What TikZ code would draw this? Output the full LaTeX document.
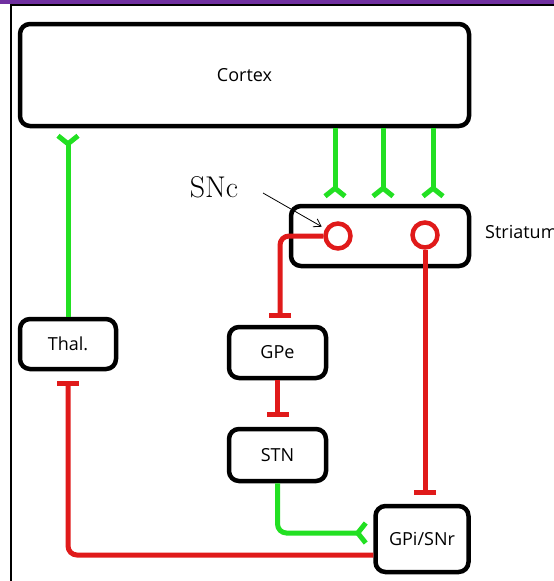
\documentclass[tikz,border=0pt]{standalone}
\usepackage{fontspec}
\newfontfamily\labelfont{Open Sans}
\usetikzlibrary{arrows.meta}
\definecolor{grn}{HTML}{22E022}
\definecolor{rd}{HTML}{E01A1A}
\definecolor{purp}{HTML}{7030A0}
\begin{document}
\begin{tikzpicture}[x=1pt,y=-1pt,
  box/.style={draw, line width=4.5pt, rounded corners=10pt, inner sep=0pt,
    font=\labelfont\fontsize{18}{20}\selectfont},
  exc/.style={grn, line width=5pt, rounded corners=9pt,
    -{Straight Barb[reversed,length=8pt,width=20pt]}, shorten >=5pt},
  inh/.style={rd, line width=5pt, rounded corners=9pt, -{Bar[width=22pt]}},
  circ/.style={circle, draw=rd, line width=4.5pt, minimum size=25pt, inner sep=0pt},
  plain/.style={font=\labelfont\fontsize{18}{20}\selectfont, inner sep=0pt}
]
\useasboundingbox (0,0) rectangle (554,581);
% frame
\fill[purp] (0,0) rectangle (554,3.5);
\draw[line width=2pt] (10,4.5) -- (554,4.5);
\draw[line width=2pt] (11,3.5) -- (11,581);

% boxes
\node[box, minimum width=449pt, minimum height=102pt] (cortex) at (244.5,75) {Cortex};
\node[box, minimum width=178pt, minimum height=60pt] (striatum) at (380,236) {};
\node[box, minimum width=96pt, minimum height=50pt] (thal) at (68,344) {Thal.};
\node[box, minimum width=97pt, minimum height=51pt] (gpe) at (277.5,352.5) {GPe};
\node[box, minimum width=97pt, minimum height=52pt] (stn) at (277.5,455) {STN};
\node[box, minimum width=93pt, minimum height=66pt] (gpi) at (422,539) {GPi/SNr};
\node[plain, anchor=base west] (strlabel) at (485,238) {Striatum};

% striatal neurons
\node[circ] (c1) at (338,236) {};
\node[circ] (c2) at (425,235) {};

% helper coordinates
\coordinate (s1) at (335,0);
\coordinate (s2) at (383,0);
\coordinate (s3) at (433,0);
\coordinate (gy) at (0,533);
\coordinate (ry) at (0,555);
\coordinate (gx) at (280,0);

% excitatory
\draw[exc] (thal.north) -- (thal.north |- cortex.south);
\draw[exc] (cortex.south -| s1) -- (striatum.north -| s1);
\draw[exc] (cortex.south -| s2) -- (striatum.north -| s2);
\draw[exc] (cortex.south -| s3) -- (striatum.north -| s3);
\draw[exc] (stn.south) |- (gpi.west |- gy);

% inhibitory
\draw[inh, shorten >=7pt] (c1.west) -| (gpe.north -| gx);
\draw[inh, shorten >=10pt] (gpe.south) -- (stn.north);
\draw[inh, shorten >=9pt] (c2.south) -- (c2.south |- gpi.north);
\draw[inh, shorten >=10pt] (gpi.west |- ry) -| (thal.south);

% SNc label
\node[font=\fontsize{30}{34}\selectfont, inner sep=0pt] (snc) at (214,187) {SNc};
\coordinate (a1) at (263,193);
\draw[line width=0.8pt, -{Straight Barb[length=7pt,width=9pt]}, shorten >=4pt] (a1) -- (c1);
\end{tikzpicture}
\end{document}
